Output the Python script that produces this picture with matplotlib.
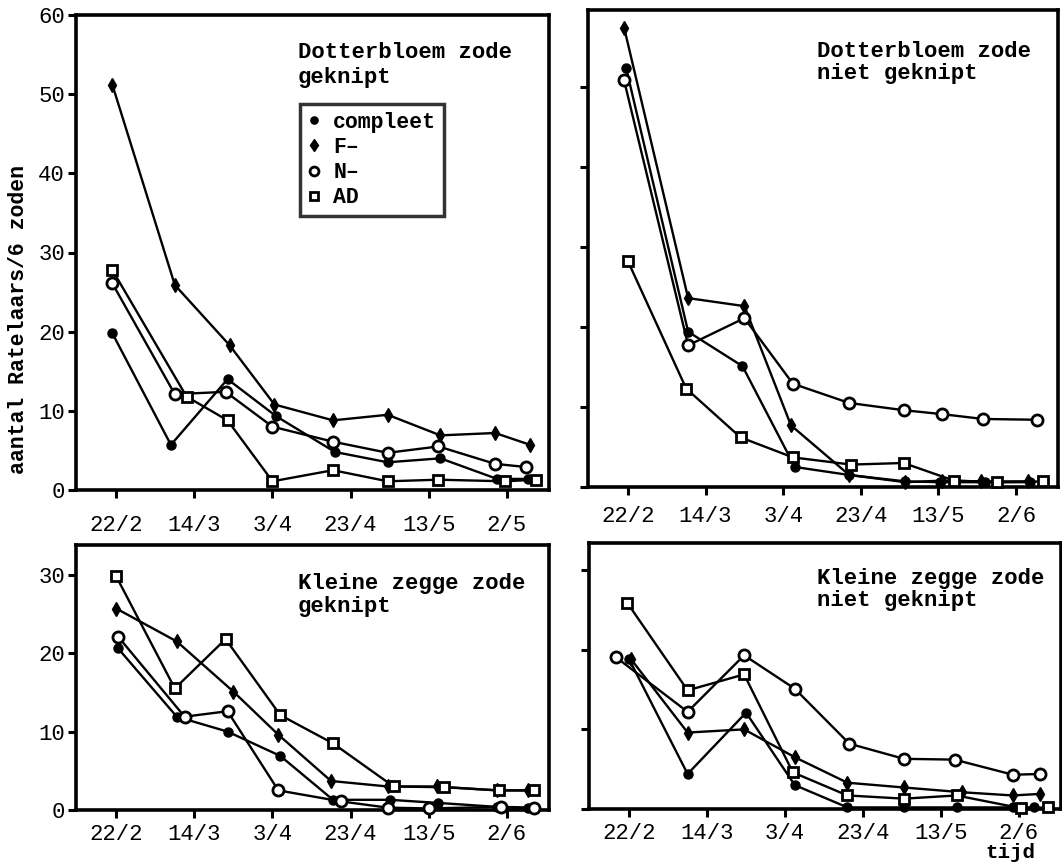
import matplotlib
matplotlib.use("Agg")
import matplotlib.pyplot as plt
from matplotlib.lines import Line2D

plt.rcParams['font.family'] = ['Liberation Mono', 'DejaVu Sans Mono']

# ---------------- data (days after 22/2) ----------------
tick_days = [0, 20, 40, 60, 80, 100]
labels_tl = ["22/2", "14/3", "3/4", "23/4", "13/5", "2/5"]
labels_other = ["22/2", "14/3", "3/4", "23/4", "13/5", "2/6"]
series_names = ["compleet", "F\u2013", "N\u2013", "AD"]

# Dotterbloem zode geknipt
tl_x_comp = [-1, 14, 28.5, 41, 56, 69.5, 83, 97.5, 105.5]
tl_comp = [19.8, 5.7, 14.0, 9.3, 4.8, 3.5, 4.0, 1.4, 1.4]
tl_x_f = [-1, 15, 29, 40.5, 55.5, 69.5, 83, 97, 106]
tl_f = [51.2, 25.9, 18.3, 10.8, 8.8, 9.5, 6.9, 7.2, 5.7]
tl_x_n = [-1, 15, 28, 40, 55.5, 69.5, 82.5, 97, 105]
tl_n = [26.1, 12.1, 12.4, 8.0, 6.1, 4.7, 5.5, 3.3, 2.9]
tl_x_ad = [-1, 18, 28.5, 40, 55.5, 69.5, 82.5, 99.5, 107.5]
tl_ad = [27.8, 11.8, 8.8, 1.1, 2.5, 1.1, 1.3, 1.1, 1.3]

# Dotterbloem zode niet geknipt
tr_x_comp = [-0.5, 15.5, 29.5, 43, 57, 71.5, 80.5, 92, 103.5]
tr_comp = [52.4, 19.4, 15.1, 2.5, 1.5, 0.7, 0.6, 0.6, 0.6]
tr_x_f = [-1, 15.5, 30, 42, 57, 71.5, 81, 91, 103]
tr_f = [57.4, 23.6, 22.6, 7.7, 1.5, 0.6, 0.8, 0.7, 0.7]
tr_x_n = [-1, 15.5, 30, 42.5, 57, 71, 81, 91.5, 105.5]
tr_n = [50.8, 17.7, 21.1, 12.9, 10.5, 9.6, 9.1, 8.5, 8.4]
tr_x_ad = [0, 15, 29, 42.5, 57.5, 71, 84, 95, 107]
tr_ad = [28.2, 12.3, 6.2, 3.7, 2.8, 3.0, 0.8, 0.6, 0.7]

# Kleine zegge zode geknipt
bl_x_comp = [0.5, 15.5, 28.5, 42, 55.5, 70, 82.5, 97.5, 105.5]
bl_comp = [20.6, 11.9, 10.0, 6.9, 1.3, 1.3, 0.9, 0.4, 0.2]
bl_x_f = [0, 15.5, 30, 41.5, 55, 69.5, 82, 97.5, 105.5]
bl_f = [25.7, 21.5, 15.1, 9.6, 3.7, 3.0, 3.0, 2.5, 2.5]
bl_x_n = [0.5, 17.5, 28.5, 41.5, 57.5, 69.5, 80, 98.5, 107]
bl_n = [22.1, 11.9, 12.6, 2.5, 1.1, 0.3, 0.2, 0.4, 0.3]
bl_x_ad = [0, 15, 28, 42, 55.5, 71, 84, 98, 107]
bl_ad = [29.8, 15.5, 21.8, 12.1, 8.5, 3.0, 2.9, 2.5, 2.5]

# Kleine zegge zode niet geknipt
br_x_comp = [0, 15, 30, 42.5, 56, 70.5, 84, 98.5, 104]
br_comp = [18.8, 4.4, 12.1, 3.0, 0.2, 0.2, 0.2, 0.2, 0.2]
br_x_f = [0.5, 15, 29.5, 42.5, 56, 70.5, 85.5, 98.5, 105.5]
br_f = [18.8, 9.6, 10.0, 6.5, 3.3, 2.7, 2.1, 1.7, 1.9]
br_x_n = [-3.5, 15, 29.5, 42.5, 56.5, 70.5, 83.5, 98.5, 105.5]
br_n = [19.1, 12.2, 19.3, 15.1, 8.2, 6.3, 6.2, 4.3, 4.4]
br_x_ad = [-0.5, 15, 29.5, 42, 56, 70.5, 84, 100.5, 107.5]
br_ad = [25.9, 14.9, 16.9, 4.6, 1.7, 1.3, 1.7, 0.1, 0.2]

# ---------------- styling ----------------
W, H = 1062, 864
fig = plt.figure(figsize=(W / 100, H / 100), dpi=100)

def fax(l, t, r, b):
    return [l / W, 1 - b / H, (r - l) / W, (b - t) / H]

marker_styles = {
    "compleet": dict(marker='o', markersize=6.5, markerfacecolor='black', markeredgecolor='black'),
    "F\u2013": dict(marker='d', markersize=7.5, markerfacecolor='black', markeredgecolor='black', markeredgewidth=1.0),
    "N\u2013": dict(marker='o', markersize=8, markerfacecolor='white', markeredgecolor='black', markeredgewidth=2.0),
    "AD": dict(marker='s', markersize=7.5, markerfacecolor='white', markeredgecolor='black', markeredgewidth=2.0),
}

def panel(rect, series, ylim, yticks, ylabels, xlabels, title, xpad, tx, ty, tls):
    ax = fig.add_axes(rect)
    for name, (xs, ys) in zip(series_names, series):
        ax.plot(xs, ys, color='black', linewidth=1.7, clip_on=False, zorder=3,
                **marker_styles[name])
    ax.set_xlim(-10.3, 110.8)
    ax.set_ylim(*ylim)
    ax.set_xticks(tick_days)
    ax.set_xticklabels(xlabels, fontsize=16)
    ax.set_yticks(yticks)
    ax.set_yticklabels(ylabels, fontsize=16)
    ax.tick_params(axis='both', direction='out', length=6, width=2.2, color='black')
    ax.tick_params(axis='x', pad=xpad)
    ax.tick_params(axis='y', pad=2)
    for s in ax.spines.values():
        s.set_linewidth(2.6)
    ax.text(tx, ty, title, transform=ax.transAxes,
            fontsize=16, fontweight='bold', va='top', ha='left', linespacing=tls)
    return ax

ax1 = panel(fax(76, 15, 549, 490),
            [(tl_x_comp, tl_comp), (tl_x_f, tl_f), (tl_x_n, tl_n), (tl_x_ad, tl_ad)],
            (0, 60), [0, 10, 20, 30, 40, 50, 60], ["0", "10", "20", "30", "40", "50", "60"],
            labels_tl, "Dotterbloem zode\ngeknipt", 12, 0.469, 0.943, 1.25)
ax2 = panel(fax(588, 10, 1058, 487),
            [(tr_x_comp, tr_comp), (tr_x_f, tr_f), (tr_x_n, tr_n), (tr_x_ad, tr_ad)],
            (0, 59.6), [0, 10, 20, 30, 40, 50], [""] * 6,
            labels_other, "Dotterbloem zode\nniet geknipt", 7.5, 0.487, 0.935, 1.05)
ax3 = panel(fax(76, 545, 549, 810),
            [(bl_x_comp, bl_comp), (bl_x_f, bl_f), (bl_x_n, bl_n), (bl_x_ad, bl_ad)],
            (0, 33.8), [0, 10, 20, 30], ["0", "10", "20", "30"],
            labels_other, "Kleine zegge zode\ngeknipt", 4, 0.469, 0.895, 1.15)
ax4 = panel(fax(589, 543, 1061, 809),
            [(br_x_comp, br_comp), (br_x_f, br_f), (br_x_n, br_n), (br_x_ad, br_ad)],
            (0, 33.4), [0, 10, 20, 30], [""] * 4,
            labels_other, "Kleine zegge zode\nniet geknipt", 4, 0.483, 0.905, 1.05)

# legend in first panel
handles = [Line2D([], [], linestyle='none', color='black', **marker_styles[n]) for n in series_names]
for h in handles:
    h.set_markersize(h.get_markersize() * 0.8)
leg = ax1.legend(handles, series_names, loc='upper left',
                 bbox_to_anchor=((300 - 76) / 473, (490 - 104) / 475),
                 borderaxespad=0, frameon=True, fancybox=False,
                 handlelength=0.6, handletextpad=0.6, labelspacing=0.2,
                 borderpad=0.35, prop=dict(family='Liberation Mono', weight='bold', size=15.5))
leg.get_frame().set_edgecolor('black')
leg.get_frame().set_linewidth(2.5)

fig.text(19 / W, 1 - 320 / H, "aantal Ratelaars/6 zoden", rotation=90,
         fontsize=15.5, fontweight='bold', ha='center', va='center')
fig.text(1010 / W, 1 - 853 / H, "tijd", fontsize=15, fontweight='bold',
         ha='center', va='center')

fig.savefig("out.png", dpi=100)
